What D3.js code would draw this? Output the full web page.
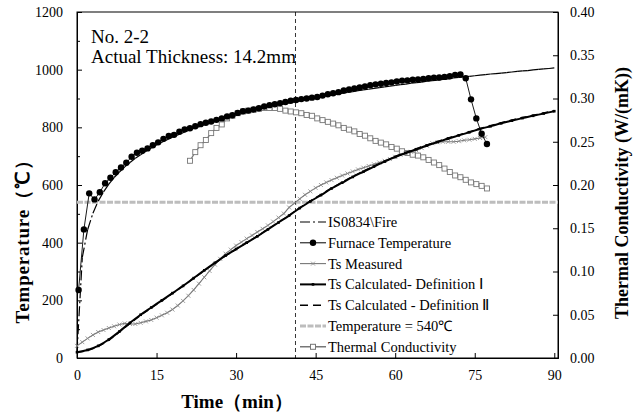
<!DOCTYPE html>
<html><head><meta charset="utf-8">
<script src="https://cdn.jsdelivr.net/npm/d3@7"></script>
<style>body{margin:0;background:#fff} svg{display:block} text{font-family:"Liberation Serif","Times New Roman",serif;fill:#000}</style>
</head><body>
<svg id="chart" width="640" height="414"></svg>
<script>
// ---------------- data ----------------
const isoTime = d3.range(0, 91, 1);
const isoTemp = [20,349,445,502,544,576,603,626,645,663,678,693,705,717,728,739,748,757,766,774,781,789,796,802,809,815,820,826,832,837,842,847,851,856,860,865,869,873,877,881,885,888,892,896,899,902,906,909,912,915,918,921,924,927,930,932,935,938,940,943,945,948,950,953,955,957,960,962,964,966,968,971,973,975,977,979,981,983,985,986,988,990,992,994,996,997,999,1001,1003,1004,1006];

const furnaceTime = d3.range(0.3, 77.4, 1);
const furnaceTemp = [236,446,571,550,575,606,625,644,661,677,698,712,719,727,738,748,760,770,774,785,793,797,804,811,816,820,826,831,838,842,850,856,858,862,866,872,877,880,884,888,892,895,898,900,903,905,910,915,918,922,928,931,935,938,942,946,949,951,954,956,959,962,963,965,966,968,970,972,973,975,977,982,983,970,897,831,778,742];

const measuredTime = d3.range(0, 78, 1);
const measuredTemp = [42,55,68,80,90,97,104,110,116,120,118,118,122,127,132,140,148,157,168,182,198,216,236,258,280,302,324,344,362,376,390,402,414,425,437,448,460,473,487,501,522,537,552,566,578,590,600,609,617,625,633,640,647,654,660,666,672,678,684,690,698,705,710,715,720,728,736,745,748,750,750,750,752,755,757,760,763,766];

const calcTime = d3.range(0, 91, 2);
const calc1Temp = [20,28,42,64,92,122,150,175,200,225,250,277,304,330,355,378,400,422,446,470,494,520,543,565,588,608,628,646,664,681,697,711,724,737,749,761,772,783,794,804,814,823,832,840,848,856];
const calc2Temp = [20,26,40,62,90,120,148,173,198,224,250,276,303,329,354,377,400,423,447,471,495,521,545,567,589,610,630,648,666,683,699,713,726,739,751,763,774,785,796,806,816,825,834,842,850,858];

const condTime = d3.range(21.3, 77.4, 1);
const condValue = [0.228,0.238,0.246,0.252,0.260,0.266,0.270,0.277,0.280,0.283,0.285,0.286,0.287,0.288,0.289,0.289,0.289,0.288,0.286,0.285,0.284,0.283,0.281,0.280,0.277,0.275,0.273,0.271,0.269,0.266,0.264,0.262,0.259,0.257,0.254,0.251,0.249,0.247,0.244,0.242,0.239,0.237,0.235,0.234,0.232,0.229,0.226,0.223,0.219,0.215,0.211,0.209,0.206,0.203,0.201,0.199,0.196];

const thresholdTemp = 540;
const markTime = 41.2;
const xTicks = [0,15,30,45,60,75,90];
const yTicks = [0,200,400,600,800,1000,1200];
const yMinorTicks = [100,300,500,700,900,1100];
const y2Ticks = [0,0.05,0.10,0.15,0.20,0.25,0.30,0.35,0.40];
const legendLabels = ["IS0834\\Fire","Furnace Temperature","Ts Measured","Ts Calculated- Definition Ⅰ","Ts Calculated - Definition Ⅱ","Temperature = 540℃","Thermal Conductivity"];

// ---------------- drawing ----------------
const svg = d3.select("#chart");
const L = 77, R = 558, T = 12, B = 358;
const x = d3.scaleLinear().domain([0, 90.7]).range([L, R]);
const y = d3.scaleLinear().domain([0, 1200]).range([B, T]);
const y2 = d3.scaleLinear().domain([0, 0.40]).range([B, T]);

// frame
svg.append("rect").attr("x", L).attr("y", T).attr("width", R - L).attr("height", B - T)
  .attr("fill", "none").attr("stroke", "#000").attr("stroke-width", 1);

// axes
const gx = svg.append("g").attr("transform", `translate(0,${B})`)
  .call(d3.axisBottom(x).tickValues(xTicks).tickSize(-5).tickPadding(12).tickFormat(d3.format("d")));
const gy = svg.append("g").attr("transform", `translate(${L},0)`)
  .call(d3.axisLeft(y).tickValues(yTicks).tickSize(-5).tickPadding(14).tickFormat(d3.format("d")));
const gym = svg.append("g").attr("transform", `translate(${L},0)`)
  .call(d3.axisLeft(y).tickValues(yMinorTicks).tickSize(-3).tickFormat(""));
const gy2 = svg.append("g").attr("transform", `translate(${R},0)`)
  .call(d3.axisRight(y2).tickValues(y2Ticks).tickSize(-5).tickPadding(12).tickFormat(d3.format(".2f")));
[gx, gy, gym, gy2].forEach(g => {
  g.select(".domain").attr("stroke", "#000");
  g.selectAll(".tick line").attr("stroke", "#000");
  g.selectAll("text").attr("font-size", 14).attr("font-family", "Liberation Serif, serif").attr("fill", "#222");
});
gym.select(".domain").remove();

// 540 threshold line
svg.append("line").attr("x1", L).attr("x2", R).attr("y1", y(thresholdTemp)).attr("y2", y(thresholdTemp))
  .attr("stroke", "#bdbdbd").attr("stroke-width", 3).attr("stroke-dasharray", "6,1.5");

// vertical marker line
svg.append("line").attr("x1", x(markTime)).attr("x2", x(markTime)).attr("y1", T).attr("y2", B)
  .attr("stroke", "#000").attr("stroke-width", 0.8).attr("stroke-dasharray", "4,3");

const line = d3.line();

// ISO 834 (dash pattern restarts on each segment)
const isoPts = isoTime.map((t, i) => [x(t), y(isoTemp[i])]);
for (let i = 0; i < isoPts.length - 1; i++) {
  svg.append("path").attr("d", line([isoPts[i], isoPts[i + 1]]))
    .attr("fill", "none").attr("stroke", "#000").attr("stroke-width", 1.2)
    .attr("stroke-dasharray", "10,3,2,3");
}

// Thermal conductivity
const condPts = condTime.map((t, i) => [x(t), y2(condValue[i])]);
svg.append("path").attr("d", line(condPts)).attr("fill", "none").attr("stroke", "#7a7a7a").attr("stroke-width", 1.3);
svg.append("g").selectAll("rect").data(condPts).join("rect")
  .attr("x", d => d[0] - 2.5).attr("y", d => d[1] - 2.5).attr("width", 5).attr("height", 5)
  .attr("fill", "#fff").attr("stroke", "#777").attr("stroke-width", 0.9);

// Measured
const measPts = measuredTime.map((t, i) => [x(t), y(measuredTemp[i])]);
svg.append("path").attr("d", line(measPts)).attr("fill", "none").attr("stroke", "#777").attr("stroke-width", 1.1);
svg.append("g").selectAll("path").data(measPts).join("path")
  .attr("d", d => `M${d[0]-2},${d[1]-2}L${d[0]+2},${d[1]+2}M${d[0]-2},${d[1]+2}L${d[0]+2},${d[1]-2}`)
  .attr("stroke", "#888").attr("stroke-width", 0.8);

// Calculated I & II
const c1Pts = calcTime.map((t, i) => [x(t), y(calc1Temp[i])]);
const c2Pts = calcTime.map((t, i) => [x(t), y(calc2Temp[i])]);
const smooth = d3.line().curve(d3.curveMonotoneX);
svg.append("path").attr("d", smooth(c2Pts)).attr("fill", "none")
  .attr("stroke", "#000").attr("stroke-width", 1.4).attr("stroke-dasharray", "7,4");
svg.append("path").attr("d", smooth(c1Pts)).attr("fill", "none")
  .attr("stroke", "#000").attr("stroke-width", 2);
svg.append("g").selectAll("rect").data(c1Pts).join("rect")
  .attr("x", d => d[0] - 1.3).attr("y", d => d[1] - 1.3).attr("width", 2.6).attr("height", 2.6).attr("fill", "#000");

// Furnace
const furPts = furnaceTime.map((t, i) => [x(t), y(furnaceTemp[i])]);
svg.append("path").attr("d", line(furPts)).attr("fill", "none").attr("stroke", "#000").attr("stroke-width", 0.9);
svg.append("g").selectAll("circle").data(furPts).join("circle")
  .attr("cx", d => d[0]).attr("cy", d => d[1]).attr("r", 3.2).attr("fill", "#000");

// annotation
svg.append("text").attr("x", 91).attr("y", 43).attr("font-size", 19).text("No. 2-2");
svg.append("text").attr("x", 91).attr("y", 63).attr("font-size", 19).text("Actual Thickness: 14.2mm");

// legend
const lg = svg.append("g");
const lx0 = 300, lx1 = 326, ly0 = 222, ldy = 20.8;
legendLabels.forEach((lab, i) => {
  const yy = ly0 + i * ldy;
  const g = lg.append("g");
  const ln = g.append("line").attr("x1", lx0).attr("x2", lx1).attr("y1", yy).attr("y2", yy);
  if (i === 0) ln.attr("stroke", "#000").attr("stroke-width", 1.2).attr("stroke-dasharray", "10,3,2,3");
  if (i === 1) { ln.attr("stroke", "#000").attr("stroke-width", 1);
    g.append("circle").attr("cx", (lx0 + lx1) / 2).attr("cy", yy).attr("r", 3.2).attr("fill", "#000"); }
  if (i === 2) { ln.attr("stroke", "#777").attr("stroke-width", 1.1);
    const cx = (lx0 + lx1) / 2;
    g.append("path").attr("d", `M${cx-2},${yy-2}L${cx+2},${yy+2}M${cx-2},${yy+2}L${cx+2},${yy-2}`).attr("stroke", "#888").attr("stroke-width", 0.8); }
  if (i === 3) { ln.attr("stroke", "#000").attr("stroke-width", 2);
    g.append("rect").attr("x", (lx0 + lx1) / 2 - 1.3).attr("y", yy - 1.3).attr("width", 2.6).attr("height", 2.6).attr("fill", "#000"); }
  if (i === 4) ln.attr("stroke", "#000").attr("stroke-width", 1.4).attr("stroke-dasharray", "8,5");
  if (i === 5) ln.attr("stroke", "#bdbdbd").attr("stroke-width", 3).attr("stroke-dasharray", "6,1.5");
  if (i === 6) { ln.attr("stroke", "#555").attr("stroke-width", 1.2);
    g.append("rect").attr("x", (lx0 + lx1) / 2 - 2.5).attr("y", yy - 2.5).attr("width", 5).attr("height", 5).attr("fill", "#fff").attr("stroke", "#777"); }
  g.append("text").attr("x", 328).attr("y", yy + 5).attr("font-size", 14.5).text(lab);
});

// axis titles
svg.append("text").attr("x", 237).attr("y", 408).attr("text-anchor", "middle")
  .attr("font-size", 19).attr("font-weight", "bold").text("Time（min）");
svg.append("text").attr("transform", "translate(29,237) rotate(-90)").attr("text-anchor", "middle")
  .attr("font-size", 19).attr("font-weight", "bold").attr("letter-spacing", 0.8).text("Temperature（℃）");
svg.append("text").attr("transform", "translate(628,193) rotate(-90)").attr("text-anchor", "middle")
  .attr("font-size", 18).attr("font-weight", "bold").text("Thermal Conductivity (W/(mK))");
</script>
</body></html>
